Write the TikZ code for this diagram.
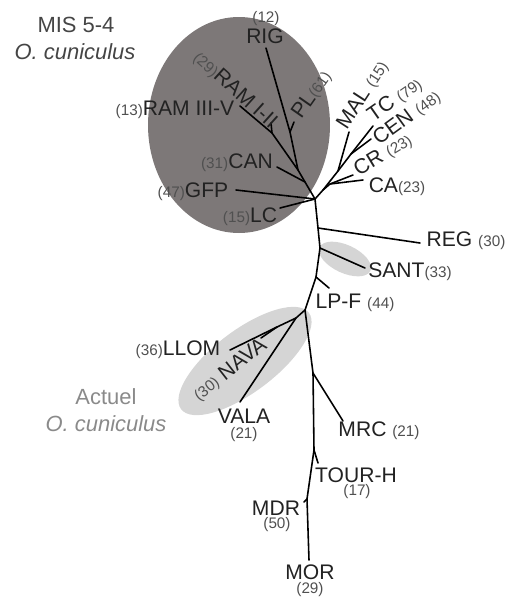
\documentclass[tikz,border=0pt]{standalone}
\usepackage{fontspec}
\setmainfont{Liberation Sans}
\definecolor{cladedark}{HTML}{7D7878}
\definecolor{cladelight}{HTML}{D5D5D5}
\definecolor{namegray}{HTML}{222222}
\definecolor{numgray}{HTML}{505050}
\definecolor{titlegray}{HTML}{454545}
\definecolor{actgray}{HTML}{8A8A8A}
\newcommand\cnt[1]{{\fontsize{8.7}{9}\selectfont\color{numgray}(#1)}}

\begin{document}
\begin{tikzpicture}[x=0.02cm,y=-0.02cm,
  branch/.style={line width=0.9pt,black,line cap=round,line join=round},
  taxon/.style={inner sep=0pt,text=namegray,font=\fontsize{12}{12}\selectfont},
  groupname/.style={inner sep=0pt,font=\fontsize{12.5}{13}\selectfont}]
  \useasboundingbox (0,0) rectangle (512,599);
  % clades
  \fill[cladedark] (239,125) ellipse [x radius=91, y radius=108];
  \fill[cladelight,rotate around={-25:(345,259)}] (345,259) ellipse [x radius=28, y radius=14];
  \fill[cladelight,rotate around={37:(245,361)}] (245,361) ellipse [x radius=80, y radius=31];
  % junctions and tips
  \coordinate (hub) at (315,199);
  \coordinate (ulA) at (305,182);
  \coordinate (ulB) at (298,170);
  \coordinate (ulC) at (272,133);
  \coordinate (ulD) at (290,132);
  \coordinate (ramIII) at (240,106);
  \coordinate (ramI) at (271,123);
  \coordinate (rigT) at (266,48);
  \coordinate (plT) at (294,122);
  \coordinate (canT) at (277,167);
  \coordinate (gfpT) at (236,190);
  \coordinate (lcT) at (280,208);
  \coordinate (rA) at (323,190);
  \coordinate (rB) at (330,184);
  \coordinate (rC) at (338,171);
  \coordinate (rD) at (351,154);
  \coordinate (caT) at (363,180);
  \coordinate (crT) at (353,175);
  \coordinate (malT) at (349,132);
  \coordinate (cenT) at (371,139);
  \coordinate (tcT) at (373,126);
  \coordinate (t1) at (318,228);
  \coordinate (t2) at (320,248);
  \coordinate (t3) at (316,277);
  \coordinate (t4) at (305,310);
  \coordinate (t5) at (313,373);
  \coordinate (t6) at (314,450);
  \coordinate (t7) at (307,499);
  \coordinate (n1) at (296,318);
  \coordinate (n2) at (277,327);
  \coordinate (regT) at (420,243);
  \coordinate (santT) at (365,268);
  \coordinate (lpfT) at (329,288);
  \coordinate (valaT) at (240,402);
  \coordinate (llomT) at (230,350);
  \coordinate (navaT) at (261,338);
  \coordinate (mrcT) at (343,421);
  \coordinate (tourT) at (318,463);
  \coordinate (mdrT) at (304,502);
  \coordinate (morT) at (309,560);
  % branches
  \draw[branch] (hub) -- (ulA) -- (ulB) -- (ulC) -- (ramIII);
  \draw[branch] (ulC) -- (ramI);
  \draw[branch] (ulB) -- (ulD) -- (rigT);
  \draw[branch] (ulD) -- (plT);
  \draw[branch] (ulA) -- (canT);
  \draw[branch] (hub) -- (gfpT);
  \draw[branch] (hub) -- (lcT);
  \draw[branch] (hub) -- (rA) -- (rC) -- (rD) -- (tcT);
  \draw[branch] (rA) -- (rB) -- (caT);
  \draw[branch] (rB) -- (crT);
  \draw[branch] (rC) -- (malT);
  \draw[branch] (rD) -- (cenT);
  \draw[branch] (hub) -- (t1) -- (t2) -- (t3) -- (t4) -- (t5) -- (t6) -- (t7) -- (morT);
  \draw[branch] (t1) -- (regT);
  \draw[branch] (t2) -- (santT);
  \draw[branch] (t3) -- (lpfT);
  \draw[branch] (t4) -- (n1) -- (valaT);
  \draw[branch] (n1) -- (n2) -- (llomT);
  \draw[branch] (n2) -- (navaT);
  \draw[branch] (t5) -- (mrcT);
  \draw[branch] (t6) -- (tourT);
  \draw[branch] (t7) -- (mdrT);
  % group names
  \node[groupname,text=titlegray] (misA) at (76,25) {MIS 5-4};
  \node[groupname,text=titlegray] (misB) at (75,52) {\itshape O. cuniculus};
  \node[groupname,text=actgray] (actA) at (106,397) {Actuel};
  \node[groupname,text=actgray] (actB) at (106,424) {\itshape O. cuniculus};
  % taxa
  \node[taxon] (rigN) at (266,19) {\cnt{12}};
  \node[taxon] (rig) at (265,36) {RIG};
  \node[taxon,rotate=-42] (ramI-II) at (235,90) {\cnt{29}RAM I-II};
  \node[taxon] (ramIII-V) at (175,110) {\cnt{13}RAM III-V};
  \node[taxon,rotate=55] (pl) at (312,95) {PL\cnt{61}};
  \node[taxon] (can) at (237,163) {\cnt{31}CAN};
  \node[taxon] (gfp) at (193,192) {\cnt{47}GFP};
  \node[taxon] (lc) at (250,217) {\cnt{15}LC};
  \node[taxon,rotate=57] (mal) at (363,95) {MAL \cnt{15}};
  \node[taxon,rotate=35] (tc) at (395,100) {TC \cnt{79}};
  \node[taxon,rotate=36] (cen) at (407,118) {CEN \cnt{48}};
  \node[taxon,rotate=31] (cr) at (383,155) {CR \cnt{23}};
  \node[taxon] (ca) at (397,187) {CA\cnt{23}};
  \node[taxon] (reg) at (466,241) {REG \cnt{30}};
  \node[taxon] (sant) at (410,272) {SANT\cnt{33}};
  \node[taxon] (lpf) at (355,303) {LP-F \cnt{44}};
  \node[taxon] (llom) at (178,350) {\cnt{36}LLOM};
  \node[taxon,rotate=38] (nava) at (230,370) {\cnt{30} NAVA};
  \node[taxon] (vala) at (244,416) {VALA};
  \node[taxon] (valaN) at (244,435) {\cnt{21}};
  \node[taxon] (mrc) at (379,431) {MRC \cnt{21}};
  \node[taxon] (tour) at (356,475) {TOUR-H};
  \node[taxon] (tourN) at (357,492) {\cnt{17}};
  \node[taxon] (mdr) at (276,508) {MDR};
  \node[taxon] (mdrN) at (277,525) {\cnt{50}};
  \node[taxon] (mor) at (310,572) {MOR};
  \node[taxon] (morN) at (310,590) {\cnt{29}};
\end{tikzpicture}
\end{document}
